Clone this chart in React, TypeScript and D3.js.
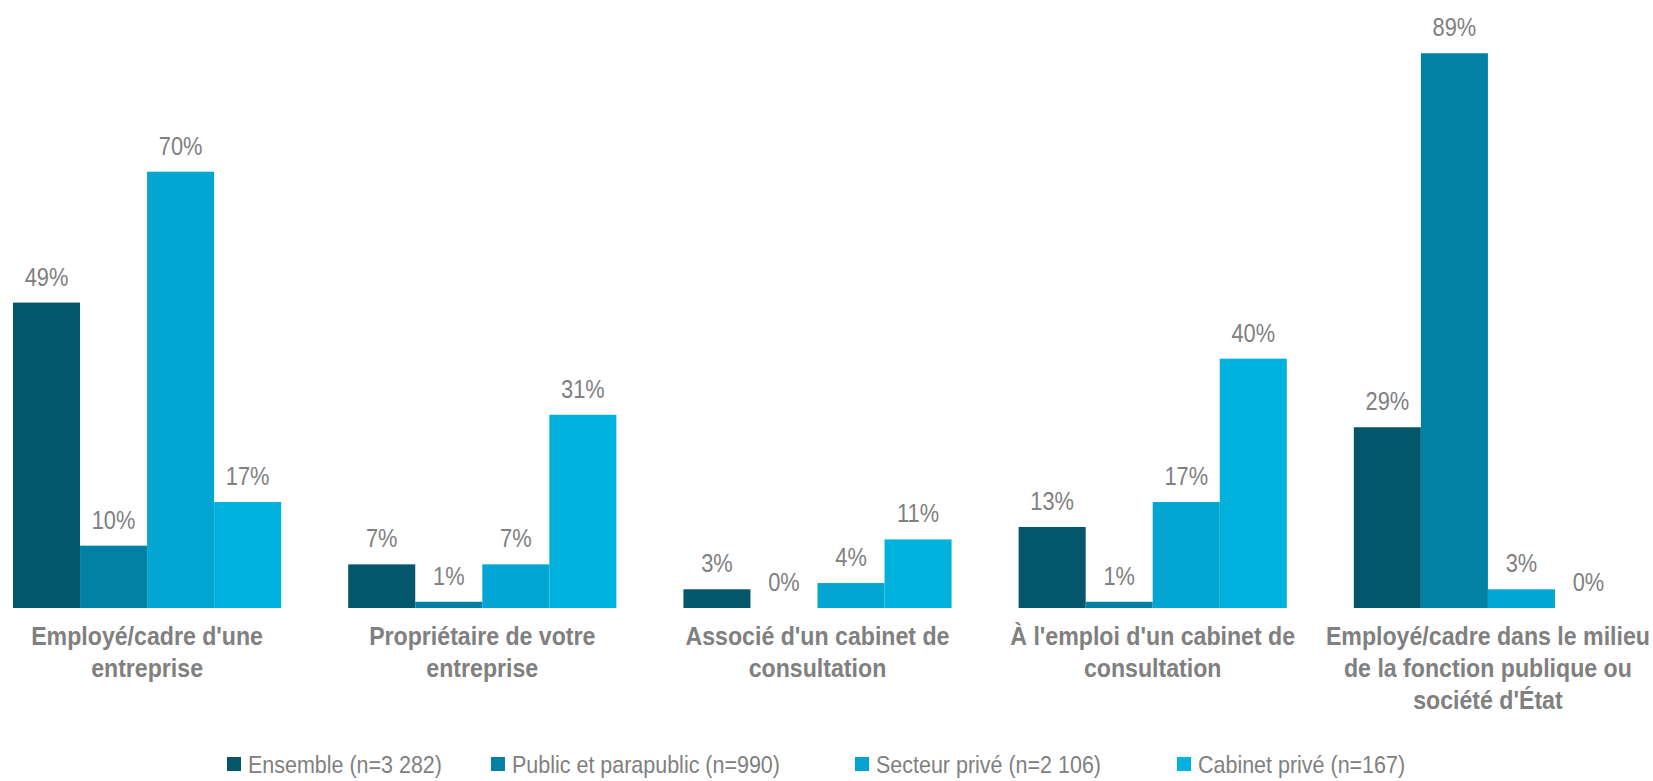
import React, { useEffect, useRef } from 'react';
import * as d3 from 'd3';

const categories = [
  "Employé/cadre d'une entreprise",
  'Propriétaire de votre entreprise',
  "Associé d'un cabinet de consultation",
  "À l'emploi d'un cabinet de consultation",
  "Employé/cadre dans le milieu de la fonction publique ou société d'État",
];
const seriesNames = [
  'Ensemble (n=3 282)',
  'Public et parapublic (n=990)',
  'Secteur privé (n=2 106)',
  'Cabinet privé (n=167)',
];
const ensemble = [49, 7, 3, 13, 29];
const publicPara = [10, 1, 0, 1, 89];
const secteurPrive = [70, 7, 4, 17, 3];
const cabinetPrive = [17, 31, 11, 40, 0];
const colors = ['#04566b', '#0281a5', '#03a5d3', '#00b0dd'];

const WIDTH = 1653;
const HEIGHT = 781;
// no narrow font installed, so Liberation Sans gets squeezed horizontally
const FONT = "'Liberation Sans', Arial, sans-serif";
const GREY = '#808080';

function App() {
  const ref = useRef<SVGSVGElement>(null);

  useEffect(() => {
    const svg = d3.select(ref.current);
    svg.selectAll('*').remove();

    const series = [ensemble, publicPara, secteurPrive, cabinetPrive];
    const baseY = 608;

    const x0 = d3.scaleBand().domain(categories).range([13, 1622]).paddingInner(0.2).paddingOuter(0);
    const x1 = d3.scaleBand().domain(seriesNames).range([0, x0.bandwidth()]).padding(0);
    const y = d3.scaleLinear().domain([0, 100]).range([baseY, baseY - 623.3]);

    const groups = svg.append('g')
      .selectAll('g')
      .data(categories)
      .join('g')
      .attr('transform', (d) => `translate(${x0(d)},0)`);

    groups.each(function (cat, ci) {
      const g = d3.select(this);
      seriesNames.forEach((s, si) => {
        const v = series[si][ci];
        g.append('rect')
          .attr('x', x1(s)!)
          .attr('y', y(v))
          .attr('width', x1.bandwidth())
          .attr('height', baseY - y(v))
          .attr('fill', colors[si]);
        g.append('text')
          .attr('transform', `translate(${x1(s)! + x1.bandwidth() / 2},${y(v) - 17}) scale(0.84,1)`)
          .attr('text-anchor', 'middle')
          .attr('font-family', FONT)
          .attr('font-size', 26)
          .attr('fill', GREY)
          .text(`${v}%`);
      });

      // wrapped category label
      const sx = 0.89;
      const label = g.append('text')
        .attr('transform', `translate(${x0.bandwidth() / 2},0) scale(${sx},1)`)
        .attr('text-anchor', 'middle')
        .attr('font-family', FONT)
        .attr('font-size', 26)
        .attr('font-weight', 'bold')
        .attr('fill', GREY);
      const words = cat.split(' ');
      const lines: string[] = [];
      let line: string[] = [];
      const probe = label.append('tspan');
      words.forEach((w) => {
        const test = [...line, w].join(' ');
        probe.text(test);
        if ((probe.node() as SVGTSpanElement).getComputedTextLength() * sx > 325 && line.length) {
          lines.push(line.join(' '));
          line = [w];
        } else {
          line.push(w);
        }
      });
      lines.push(line.join(' '));
      probe.remove();
      lines.forEach((l, li) => {
        label.append('tspan')
          .attr('x', 0)
          .attr('y', 645 + li * 32)
          .text(l);
      });
    });

    const legendX = [227, 491, 855, 1177];
    const legend = svg.append('g')
      .selectAll('g')
      .data(seriesNames)
      .join('g')
      .attr('transform', (_, i) => `translate(${legendX[i]},757)`);
    legend.append('rect')
      .attr('width', 14)
      .attr('height', 14)
      .attr('fill', (_, i) => colors[i]);
    legend.append('text')
      .attr('transform', 'translate(21,16) scale(0.895,1)')
      .attr('font-family', FONT)
      .attr('font-size', 24)
      .attr('fill', GREY)
      .text((d) => d);
  }, []);

  return (
    <svg
      ref={ref}
      width={WIDTH}
      height={HEIGHT}
      style={{ position: 'absolute', left: 0, top: 0, background: '#fff' }}
    />
  );
}

export default App;
